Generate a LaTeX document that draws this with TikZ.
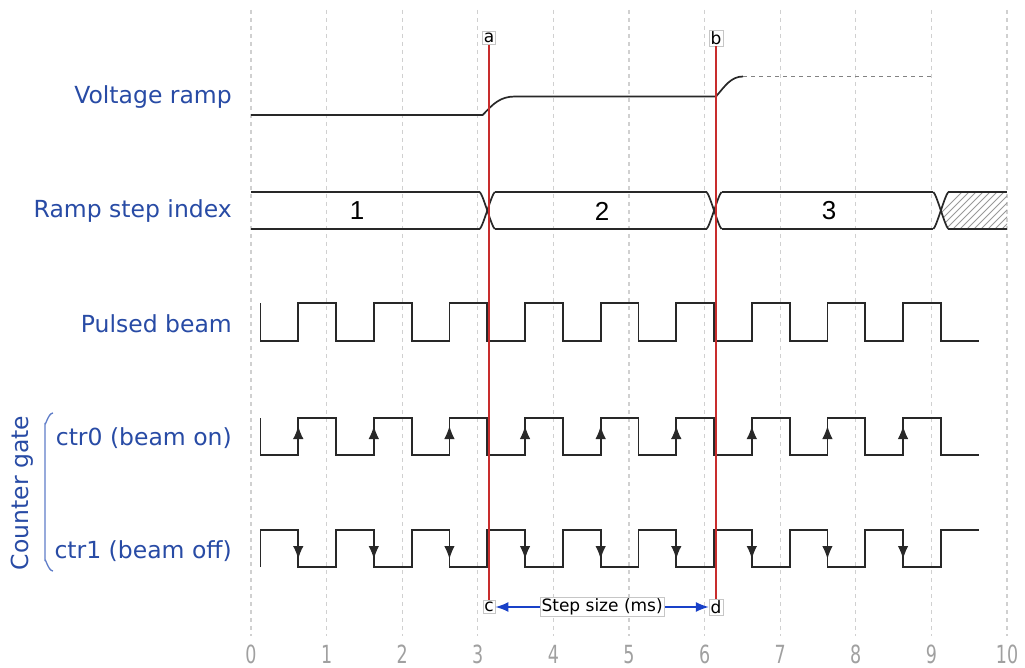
\documentclass[tikz,border=0pt]{standalone}
\usepackage{fontspec}
\setmainfont{DejaVu Sans}
\newfontfamily\axisfont[FakeStretch=0.7]{DejaVu Sans}
\newfontfamily\digitfont{Liberation Sans}
\usetikzlibrary{arrows.meta}
\definecolor{lblue}{RGB}{40,75,165}
\definecolor{bracketc}{RGB}{95,125,200}
\definecolor{arrowc}{RGB}{25,65,200}
\definecolor{redc}{RGB}{200,45,45}
\definecolor{wavec}{RGB}{40,40,40}
\definecolor{gridc}{RGB}{208,208,208}
\definecolor{axisc}{RGB}{160,160,160}
\definecolor{dashc}{RGB}{130,130,130}
\newcommand\buscross[1]{%
  \draw[wave] ({#1-7.5},192) .. controls ({#1-4},195) and ({#1+4},226) .. ({#1+7.5},229);
  \draw[wave] ({#1-7.5},229) .. controls ({#1-4},226) and ({#1+4},195) .. ({#1+7.5},192);}
\begin{document}
\begin{tikzpicture}[x=1pt,y=-1pt,
  declare function={X(\u)=251+75.6*\u;},
  gridline/.style={draw=gridc, line width=1.3pt, dash pattern=on 4pt off 4pt},
  wave/.style={draw=wavec, line width=1.7pt, line join=miter},
  marker/.style={draw=redc, line width=1.8pt},
  tag/.style={draw=gray!45, fill=white, inner sep=1.5pt, line width=0.6pt,
    font=\fontsize{17}{19}\selectfont},
  steptag/.style={draw=gray!45, fill=white, inner sep=1.5pt, line width=0.6pt,
    font=\fontsize{17}{19}\selectfont},
  lbl/.style={anchor=east, text=lblue, inner sep=0pt, font=\fontsize{23.5}{27}\selectfont},
  busnum/.style={inner sep=0pt, font=\digitfont\fontsize{26}{28}\selectfont},
  axisnum/.style={inner sep=0pt, anchor=base, text=axisc, font=\axisfont\fontsize{25}{28}\selectfont},
  hatch/.style={draw=gray!80, line width=0.8pt},
  edgearrow/.style={draw=wavec, line width=1.2pt, -{Latex[length=13pt,width=10.5pt]}},
  steparrow/.style={draw=arrowc, line width=1.5pt, {Latex[length=13pt,width=10pt]}-{Latex[length=13pt,width=10pt]}}
]
\useasboundingbox (0,0) rectangle (1025,668);

% grid lines
\foreach \k in {0,...,10} \draw[gridline] ({X(\k)},10) -- ({X(\k)},636);

% axis numbers
\foreach \k in {0,...,10} \node[axisnum] (t\k) at ({X(\k)},663) {\k};

% row labels
\node[lbl] (lv) at (232,97) {Voltage ramp};
\node[lbl] (lr) at (232,211) {Ramp step index};
\node[lbl] (lp) at (232,324) {Pulsed beam};
\node[lbl] (l0) at (232,438) {ctr0 (beam on)};
\node[lbl] (l1) at (232,551) {ctr1 (beam off)};
\node[text=lblue, inner sep=0pt, rotate=90, font=\fontsize{23.5}{27}\selectfont] (cg) at (22,493) {Counter gate};
\draw[draw=bracketc, line width=1.3pt] (53,413) to[out=180,in=-90] (45,423) -- (45,561) to[out=90,in=180] (53,571);

% voltage ramp
\draw[wave] ({X(0)},115) -- (482.7,115) .. controls (493,104) and (500,96.5) .. (515,96.5)
  -- (716,96.5) .. controls (725,86) and (731,76.5) .. (743,76.5);
\draw[draw=dashc, line width=1.7pt, dash pattern=on 4pt off 4pt] (743,76.5) -- ({X(9)},76.5);

% ramp step bus
\begin{scope}
  \clip ({X(9.125)},210.5) -- ({X(9.125)+7.5},192) -- (1007,192) -- (1007,229) -- ({X(9.125)+7.5},229) -- cycle;
  \foreach \i in {0,...,13} \draw[hatch] ({925+7*\i},229) -- ({925+7*\i+37},192);
\end{scope}
\draw[wave] ({X(0)},192) -- ({X(3.125)-7.5},192);
\draw[wave] ({X(0)},229) -- ({X(3.125)-7.5},229);
\draw[wave] ({X(3.125)+7.5},192) -- ({X(6.125)-7.5},192);
\draw[wave] ({X(3.125)+7.5},229) -- ({X(6.125)-7.5},229);
\draw[wave] ({X(6.125)+7.5},192) -- ({X(9.125)-7.5},192);
\draw[wave] ({X(6.125)+7.5},229) -- ({X(9.125)-7.5},229);
\draw[wave] ({X(9.125)+7.5},192) -- (1007,192);
\draw[wave] ({X(9.125)+7.5},229) -- (1007,229);
\buscross{X(3.125)}
\buscross{X(6.125)}
\buscross{X(9.125)}
\node[busnum] (s1) at (357,211) {1};
\node[busnum] (s2) at (602,211) {2};
\node[busnum] (s3) at (829,211) {3};

% pulsed beam
\draw[wave] ({X(0.125)},303) -- ({X(0.125)},341)
  foreach \k in {0,...,8} { -- ({X(\k+0.625)},341) -- ({X(\k+0.625)},303) -- ({X(\k+1.125)},303) -- ({X(\k+1.125)},341) }
  -- ({X(9.625)},341);

% ctr0
\draw[wave] ({X(0.125)},418) -- ({X(0.125)},455)
  foreach \k in {0,...,8} { -- ({X(\k+0.625)},455) -- ({X(\k+0.625)},418) -- ({X(\k+1.125)},418) -- ({X(\k+1.125)},455) }
  -- ({X(9.625)},455);
\foreach \k in {0,...,8} \draw[edgearrow] ({X(\k+0.625)},445) -- ({X(\k+0.625)},426);

% ctr1
\draw[wave] ({X(0.125)},567) -- ({X(0.125)},530)
  foreach \k in {0,...,8} { -- ({X(\k+0.625)},530) -- ({X(\k+0.625)},567) -- ({X(\k+1.125)},567) -- ({X(\k+1.125)},530) }
  -- ({X(9.625)},530);
\foreach \k in {0,...,8} \draw[edgearrow] ({X(\k+0.625)},540) -- ({X(\k+0.625)},559);

% markers
\node[tag] (a) at (489,38) {a};
\node[tag] (b) at (716,38) {b};
\node[tag] (c) at (489,607) {c};
\node[tag] (d) at (716,607) {d};
\draw[marker] (a) -- (c);
\draw[marker] (b) -- (d);
\draw[steparrow] (c) -- (d) node[steptag, midway] (st) {Step size (ms)};
\end{tikzpicture}
\end{document}
